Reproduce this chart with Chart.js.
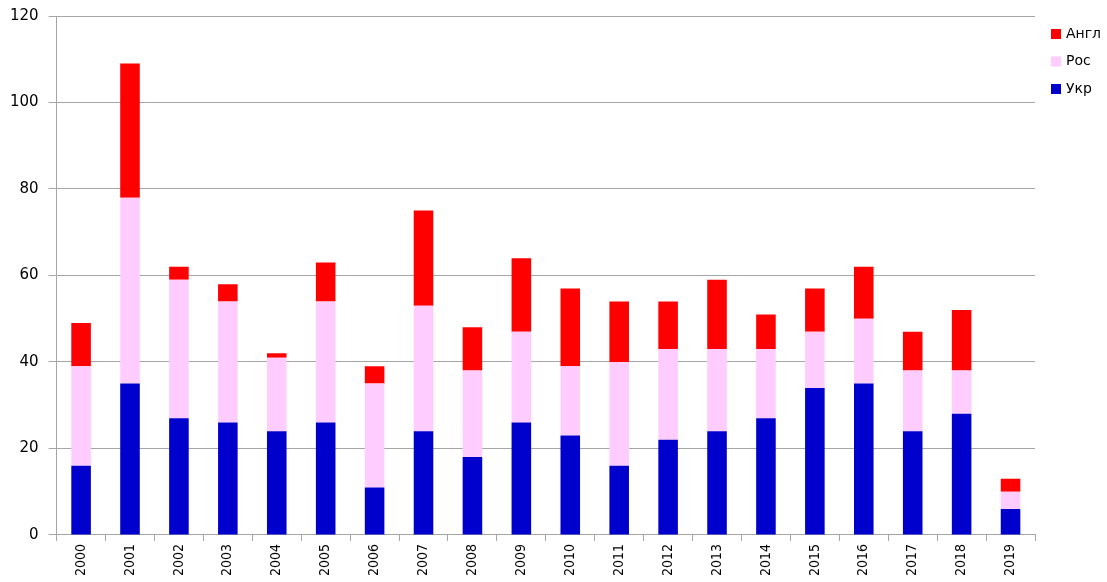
<!DOCTYPE html>
<html>
<head>
<meta charset="utf-8">
<script src="https://cdn.jsdelivr.net/npm/chart.js@4"></script>
<style>
  body { margin: 0; background: #fff; }
  #wrap { width: 1107px; height: 582px; }
</style>
</head>
<body>
<div id="wrap"><canvas id="chart"></canvas></div>
<script>
const years = ["2000","2001","2002","2003","2004","2005","2006","2007","2008","2009",
  "2010","2011","2012","2013","2014","2015","2016","2017","2018","2019"];
const ukr = [16, 35, 27, 26, 24, 26, 11, 24, 18, 26, 23, 16, 22, 24, 27, 34, 35, 24, 28, 6];
const ros = [23, 43, 32, 28, 17, 28, 24, 29, 20, 21, 16, 24, 21, 19, 16, 13, 15, 14, 10, 4];
const angl = [10, 31, 3, 4, 1, 9, 4, 22, 10, 17, 18, 14, 11, 16, 8, 10, 12, 9, 14, 3];

const axisGrey = "#a6a6a6";

// legend drawn to the right of the plot, top item = last dataset
const sideLegend = {
  id: "sideLegend",
  afterDraw(chart) {
    const ctx = chart.ctx;
    const x = chart.chartArea.right + 16;
    const sets = chart.data.datasets.slice().reverse();
    ctx.save();
    ctx.font = "14px 'DejaVu Sans'";
    ctx.textBaseline = "middle";
    sets.forEach((ds, i) => {
      const y = 34 + i * 27.5;
      ctx.fillStyle = ds.backgroundColor;
      ctx.fillRect(x, y - 5, 10, 10);
      ctx.fillStyle = "#000";
      ctx.fillText(ds.label, x + 15, y);
    });
    ctx.restore();
  }
};

new Chart(document.getElementById("chart"), {
  type: "bar",
  data: {
    labels: years,
    datasets: [
      { label: "Укр", data: ukr, backgroundColor: "#0000cc" },
      { label: "Рос", data: ros, backgroundColor: "#ffccff" },
      { label: "Англ", data: angl, backgroundColor: "#ff0000" }
    ]
  },
  options: {
    responsive: true,
    maintainAspectRatio: false,
    animation: false,
    layout: { padding: { top: 16, right: 72, bottom: 3, left: 0 } },
    datasets: { bar: { barPercentage: 0.4, categoryPercentage: 1 } },
    plugins: {
      tooltip: { enabled: false },
      legend: { display: false }
    },
    scales: {
      x: {
        stacked: true,
        border: { color: axisGrey },
        grid: { drawOnChartArea: false, offset: true, tickLength: 6, color: axisGrey },
        ticks: {
          maxRotation: 90,
          minRotation: 90,
          color: "#000",
          font: { family: "DejaVu Sans Condensed", size: 14 }
        }
      },
      y: {
        stacked: true,
        min: 0,
        max: 120,
        border: { color: axisGrey },
        grid: { color: axisGrey, tickLength: 8 },
        afterFit(scale) { scale.paddingTop = 0; },
        ticks: {
          stepSize: 20,
          color: "#000",
          padding: 10,
          font: { family: "DejaVu Sans", size: 15 }
        }
      }
    }
  },
  plugins: [sideLegend]
});
</script>
</body>
</html>
